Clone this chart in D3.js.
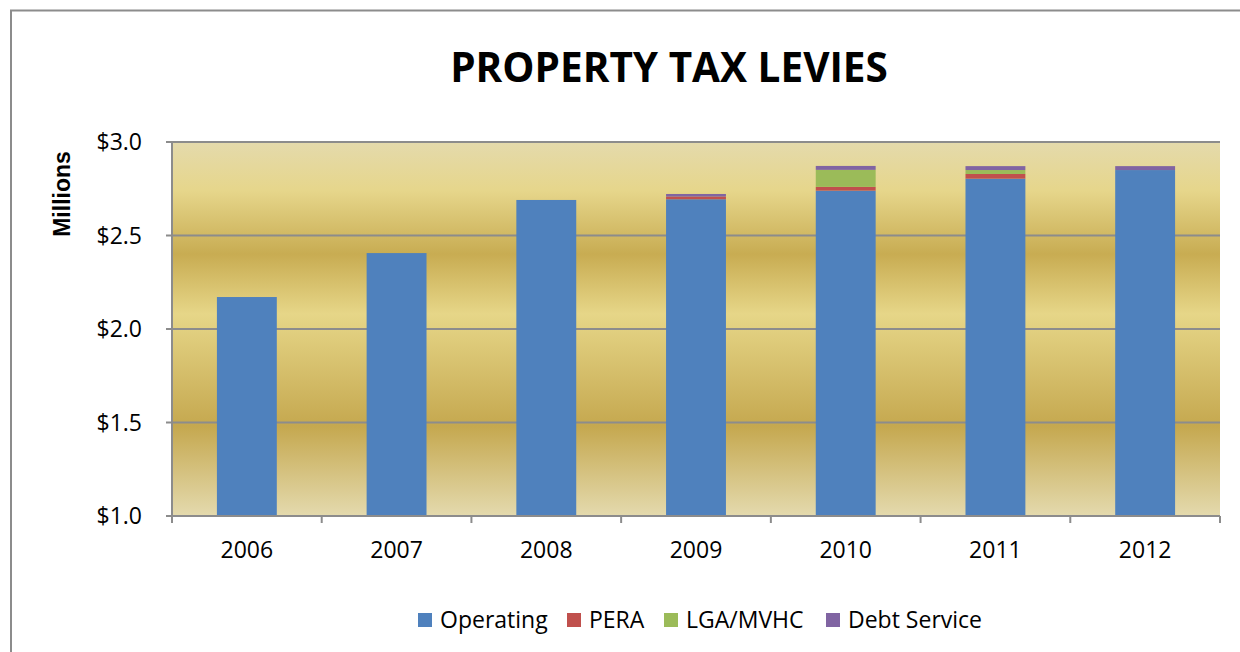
<!DOCTYPE html>
<html>
<head>
<meta charset="utf-8">
<script src="https://cdn.jsdelivr.net/npm/d3@7"></script>
<style>
body{margin:0;background:#fff;}
text{font-family:"Open Sans",sans-serif;fill:#000;}
</style>
</head>
<body>
<script>
var lata=["2006","2007","2008","2009","2010","2011","2012"];
var serie=["Operating","PERA","LGA/MVHC","Debt Service"];
var kolory=["#4F81BD","#C0504D","#9BBB59","#8064A2"];
// wartosci w milionach
var operating=[2.171,2.406,2.690,2.694,2.740,2.804,2.850];
var pera=[0,0,0,0.014,0.020,0.025,0];
var lga=[0,0,0,0,0.091,0.021,0];
var debt=[0,0,0,0.014,0.021,0.021,0.021];
var osY=[1.0,1.5,2.0,2.5,3.0];

var wykres=d3.select("body").append("svg").attr("width",1240).attr("height",652);

// ramka
wykres.append("rect").attr("x",11).attr("y",10.5).attr("width",1260).attr("height",680)
	.style("fill","white").style("stroke","#8c8c8c").style("stroke-width",2);

var lewo=172, prawo=1220, gora=142, dol=516;

var defs=wykres.append("defs");
var grad=defs.append("linearGradient").attr("id","zloto").attr("x1",0).attr("y1",0).attr("x2",0).attr("y2",1);
[[0,"#E4DAAC"],[0.13,"#E6D68B"],[0.30,"#C8AC52"],[0.46,"#E6D688"],[0.76,"#C5A84F"],[1,"#E4DAAE"]]
	.forEach(function(s){grad.append("stop").attr("offset",s[0]).attr("stop-color",s[1]);});

wykres.append("rect").attr("x",lewo).attr("y",gora).attr("width",prawo-lewo).attr("height",dol-gora)
	.style("fill","url(#zloto)");

var x=d3.scaleBand().domain(lata).range([lewo,prawo]).paddingInner(0.6).paddingOuter(0.3);
var xGranice=d3.scaleLinear().domain([0,lata.length]).range([lewo,prawo]);
var y=d3.scaleLinear().domain([1.0,3.0]).range([dol,gora]);

// linie siatki
wykres.append("g").selectAll("line").data(osY).enter().append("line")
	.attr("x1",lewo-6).attr("x2",prawo).attr("y1",function(d){return y(d);}).attr("y2",function(d){return y(d);})
	.style("stroke","#8c8c8c").style("stroke-width",2);

// slupki
var tabela=lata.map(function(r,i){return {rok:r,Operating:operating[i],PERA:pera[i],"LGA/MVHC":lga[i],"Debt Service":debt[i]};});
var stos=d3.stack().keys(serie)(tabela);
wykres.append("g").selectAll("g").data(stos).enter().append("g")
	.style("fill",function(d,i){return kolory[i];})
	.selectAll("rect").data(function(d){return d;}).enter().append("rect")
	.attr("x",function(d){return x(d.data.rok);})
	.attr("width",x.bandwidth())
	.attr("y",function(d){return y(Math.max(d[1],d[0]===0?1.0:d[0])) ;})
	.attr("height",function(d){
		var dolna=d[0]===0?1.0:d[0];
		return Math.max(0,y(dolna)-y(d[1]));
	});

// os x
wykres.append("line").attr("x1",lewo-6).attr("x2",prawo).attr("y1",dol).attr("y2",dol)
	.style("stroke","#8c8c8c").style("stroke-width",2);
wykres.append("line").attr("x1",lewo).attr("x2",lewo).attr("y1",gora).attr("y2",dol+7)
	.style("stroke","#8c8c8c").style("stroke-width",2);
wykres.append("g").selectAll("line").data(d3.range(1,lata.length+1)).enter().append("line")
	.attr("x1",function(d){return xGranice(d);}).attr("x2",function(d){return xGranice(d);})
	.attr("y1",dol).attr("y2",dol+7)
	.style("stroke","#8c8c8c").style("stroke-width",2);

wykres.append("g").selectAll("text").data(lata).enter().append("text")
	.attr("x",function(d){return x(d)+x.bandwidth()/2;}).attr("y",558)
	.attr("text-anchor","middle").style("font-size","23px")
	.text(function(d){return d;});

wykres.append("g").selectAll("text").data(osY).enter().append("text")
	.attr("x",142).attr("y",function(d){return y(d)+8;})
	.attr("text-anchor","end").style("font-size","23px")
	.text(function(d){return "$"+d.toFixed(1);});

// tytuly
wykres.append("text").attr("x",669).attr("y",82).attr("text-anchor","middle")
	.style("font-size","40.5px").style("font-weight","bold")
	.text("PROPERTY TAX LEVIES");
wykres.append("text").attr("transform","translate(70,194) rotate(-90)").attr("text-anchor","middle")
	.style("font-family","'Liberation Sans',Arial,sans-serif").style("font-size","23px").style("font-weight","bold")
	.text("Millions");

// legenda
var legendaX=[418,567,664,826];
var leg=wykres.append("g").selectAll("g").data(serie).enter().append("g")
	.attr("transform",function(d,i){return "translate("+legendaX[i]+",613)";});
leg.append("rect").attr("width",14).attr("height",14).style("fill",function(d,i){return kolory[i];});
leg.append("text").attr("x",22).attr("y",15).style("font-size","23px").text(function(d){return d;});
</script>
</body>
</html>
